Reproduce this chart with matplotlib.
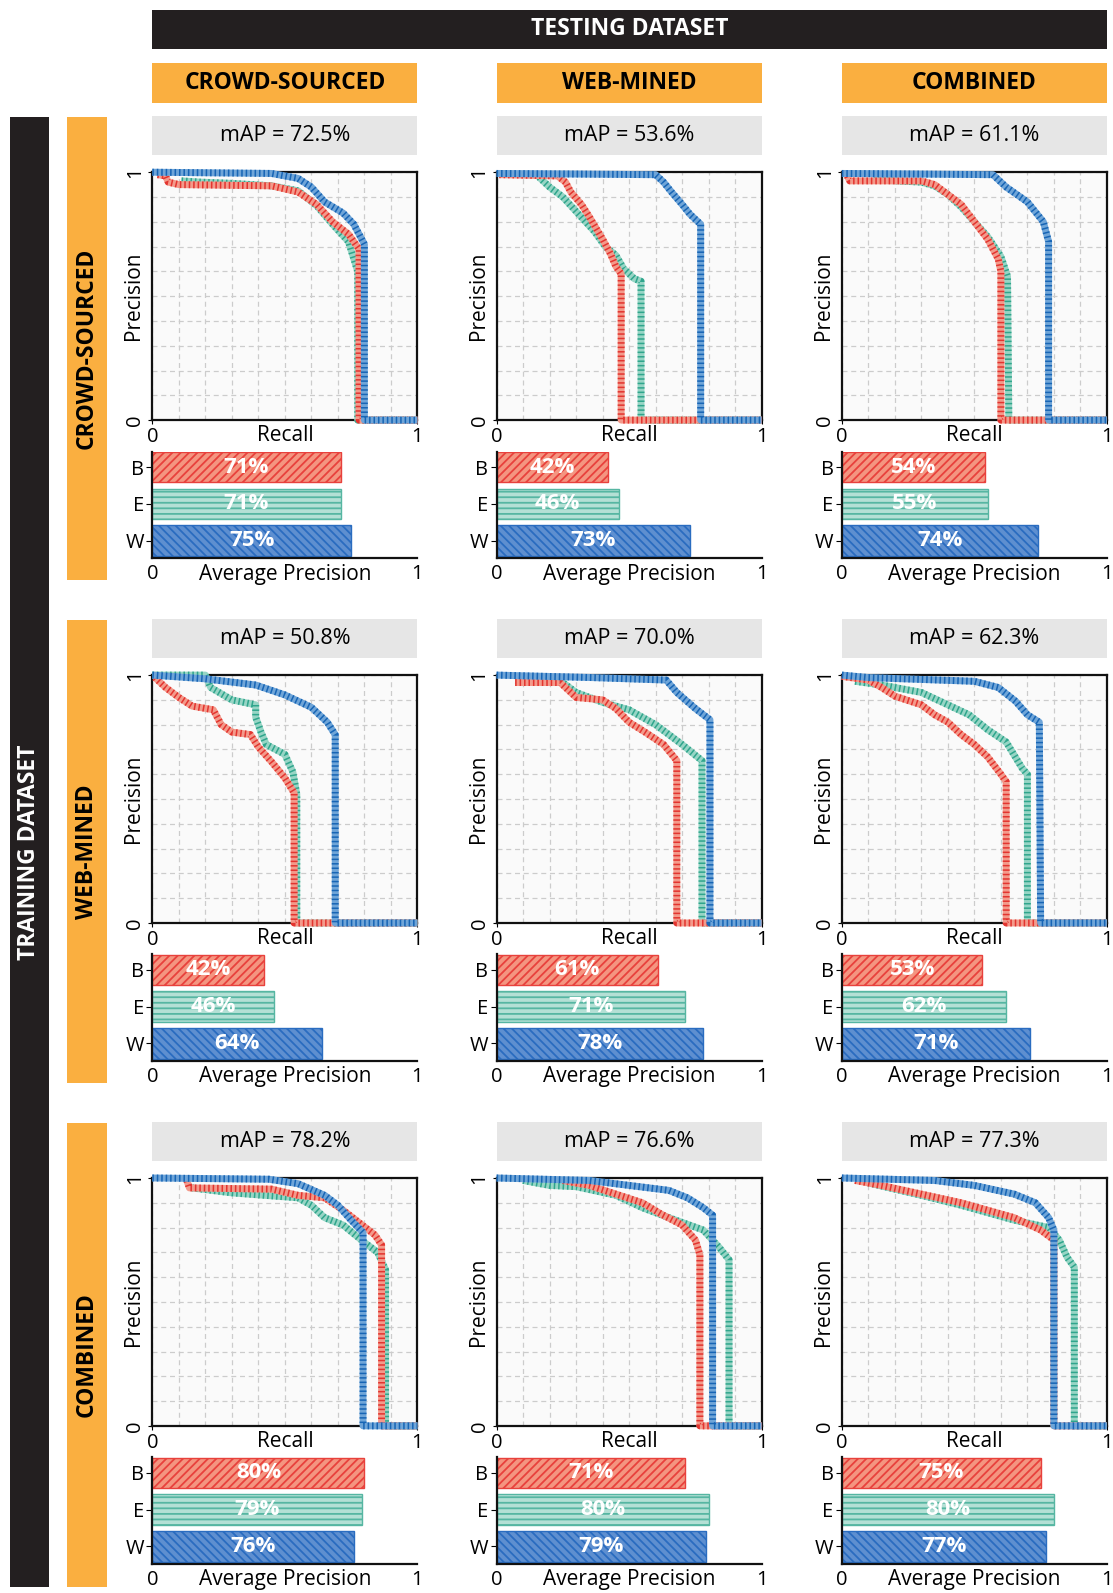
import matplotlib.pyplot as plt
from matplotlib.patches import Rectangle

plt.rcParams['font.family'] = ['Open Sans', 'DejaVu Sans']
plt.rcParams['hatch.linewidth'] = 1.3

# ---- data ----
datasets = ['CROWD-SOURCED', 'WEB-MINED', 'COMBINED']
methods = ['B', 'E', 'W']

# mAP per (training row, testing column)
map_values = [[72.5, 53.6, 61.1],
              [50.8, 70.0, 62.3],
              [78.2, 76.6, 77.3]]

# average precision per panel, order B, E, W
ap_cs = [[71, 71, 75], [42, 46, 73], [54, 55, 74]]
ap_wm = [[42, 46, 64], [61, 71, 78], [53, 62, 71]]
ap_cb = [[80, 79, 76], [71, 80, 79], [75, 80, 77]]

# precision-recall curves: (recall, precision) points
# train crowd-sourced
cs_cs_B = [(0.02, 0.99), (0.05, 0.985), (0.06, 0.96), (0.1, 0.95), (0.45, 0.945), (0.55, 0.92),
           (0.62, 0.87), (0.68, 0.8), (0.74, 0.75), (0.78, 0.69), (0.78, 0.0), (1.0, 0.0)]
cs_cs_E = [(0.11, 0.965), (0.18, 0.96), (0.3, 0.955), (0.45, 0.945), (0.55, 0.925), (0.62, 0.865),
           (0.68, 0.79), (0.74, 0.72), (0.775, 0.6), (0.775, 0.0), (1.0, 0.0)]
cs_cs_W = [(0.0, 1.0), (0.45, 0.995), (0.55, 0.975), (0.6, 0.94), (0.65, 0.88), (0.72, 0.835),
           (0.76, 0.79), (0.8, 0.71), (0.8, 0.0), (1.0, 0.0)]
cs_wm_B = [(0.01, 0.99), (0.23, 0.985), (0.26, 0.96), (0.28, 0.92), (0.32, 0.87), (0.35, 0.82),
           (0.4, 0.73), (0.43, 0.67), (0.45, 0.62), (0.47, 0.59), (0.47, 0.0), (1.0, 0.0)]
cs_wm_E = [(0.16, 0.98), (0.2, 0.94), (0.25, 0.9), (0.31, 0.83), (0.37, 0.76), (0.41, 0.7),
           (0.45, 0.665), (0.48, 0.61), (0.52, 0.57), (0.545, 0.56), (0.545, 0.0), (1.0, 0.0)]
cs_wm_W = [(0.0, 0.995), (0.6, 0.99), (0.63, 0.96), (0.66, 0.92), (0.7, 0.87), (0.73, 0.83),
           (0.77, 0.79), (0.77, 0.0), (1.0, 0.0)]
cs_cb_B = [(0.02, 0.985), (0.03, 0.965), (0.3, 0.965), (0.35, 0.95), (0.4, 0.91), (0.45, 0.87),
           (0.5, 0.8), (0.55, 0.73), (0.59, 0.65), (0.6, 0.6), (0.6, 0.0), (1.0, 0.0)]
cs_cb_E = [(0.12, 0.97), (0.3, 0.96), (0.35, 0.945), (0.4, 0.91), (0.45, 0.86), (0.5, 0.8),
           (0.55, 0.74), (0.6, 0.66), (0.625, 0.58), (0.63, 0.0), (1.0, 0.0)]
cs_cb_W = [(0.0, 0.995), (0.57, 0.99), (0.62, 0.94), (0.7, 0.88), (0.76, 0.8), (0.78, 0.72),
           (0.78, 0.0), (1.0, 0.0)]
# train web-mined
wm_cs_B = [(0.01, 0.99), (0.05, 0.95), (0.1, 0.91), (0.15, 0.875), (0.23, 0.86), (0.26, 0.8),
           (0.3, 0.77), (0.37, 0.76), (0.4, 0.71), (0.45, 0.65), (0.5, 0.585), (0.535, 0.525),
           (0.535, 0.0), (1.0, 0.0)]
wm_cs_E = [(0.0, 1.0), (0.2, 1.0), (0.22, 0.95), (0.3, 0.9), (0.39, 0.88), (0.39, 0.83),
           (0.41, 0.77), (0.43, 0.72), (0.5, 0.68), (0.53, 0.61), (0.545, 0.52), (0.545, 0.0),
           (1.0, 0.0)]
wm_cs_W = [(0.0, 1.0), (0.2, 0.985), (0.39, 0.96), (0.5, 0.92), (0.6, 0.87), (0.66, 0.81),
           (0.69, 0.76), (0.69, 0.0), (1.0, 0.0)]
wm_wm_B = [(0.07, 0.97), (0.24, 0.97), (0.3, 0.91), (0.4, 0.9), (0.45, 0.865), (0.5, 0.81),
           (0.56, 0.77), (0.63, 0.72), (0.68, 0.655), (0.68, 0.0), (1.0, 0.0)]
wm_wm_E = [(0.07, 0.98), (0.25, 0.97), (0.3, 0.93), (0.4, 0.89), (0.5, 0.86), (0.6, 0.8),
           (0.7, 0.72), (0.775, 0.655), (0.775, 0.0), (1.0, 0.0)]
wm_wm_W = [(0.0, 1.0), (0.36, 0.99), (0.64, 0.98), (0.68, 0.93), (0.75, 0.865), (0.805, 0.82),
           (0.805, 0.0), (1.0, 0.0)]
wm_cb_B = [(0.0, 0.995), (0.1, 0.98), (0.15, 0.95), (0.2, 0.915), (0.3, 0.88), (0.35, 0.84),
           (0.4, 0.81), (0.45, 0.76), (0.5, 0.72), (0.55, 0.67), (0.6, 0.6), (0.62, 0.57),
           (0.62, 0.0), (1.0, 0.0)]
wm_cb_E = [(0.05, 0.975), (0.15, 0.96), (0.3, 0.93), (0.4, 0.88), (0.48, 0.84), (0.55, 0.78),
           (0.62, 0.73), (0.68, 0.625), (0.7, 0.6), (0.7, 0.0), (1.0, 0.0)]
wm_cb_W = [(0.0, 1.0), (0.1, 0.99), (0.5, 0.975), (0.59, 0.95), (0.655, 0.895), (0.7, 0.84),
           (0.745, 0.81), (0.75, 0.0), (1.0, 0.0)]
# train combined
cb_cs_B = [(0.13, 0.99), (0.14, 0.96), (0.45, 0.955), (0.55, 0.93), (0.65, 0.92), (0.72, 0.87),
           (0.78, 0.82), (0.84, 0.77), (0.865, 0.73), (0.865, 0.0), (1.0, 0.0)]
cb_cs_E = [(0.15, 0.96), (0.3, 0.94), (0.55, 0.92), (0.6, 0.89), (0.65, 0.84), (0.72, 0.81),
           (0.8, 0.74), (0.85, 0.7), (0.88, 0.63), (0.88, 0.0), (1.0, 0.0)]
cb_cs_W = [(0.0, 1.0), (0.44, 0.995), (0.55, 0.977), (0.65, 0.93), (0.7, 0.89), (0.75, 0.83),
           (0.795, 0.78), (0.795, 0.0), (1.0, 0.0)]
cb_wm_B = [(0.25, 0.99), (0.35, 0.97), (0.45, 0.935), (0.55, 0.9), (0.62, 0.855), (0.7, 0.81),
           (0.75, 0.75), (0.767, 0.69), (0.767, 0.0), (1.0, 0.0)]
cb_wm_E = [(0.1, 0.99), (0.2, 0.97), (0.3, 0.965), (0.45, 0.93), (0.55, 0.88), (0.65, 0.84),
           (0.78, 0.79), (0.84, 0.72), (0.877, 0.67), (0.877, 0.0), (1.0, 0.0)]
cb_wm_W = [(0.0, 1.0), (0.35, 0.99), (0.5, 0.97), (0.65, 0.95), (0.72, 0.92), (0.78, 0.88),
           (0.815, 0.85), (0.815, 0.0), (1.0, 0.0)]
cb_cb_B = [(0.05, 0.99), (0.15, 0.97), (0.3, 0.935), (0.45, 0.9), (0.55, 0.87), (0.65, 0.84),
           (0.75, 0.79), (0.8, 0.75), (0.8, 0.0), (1.0, 0.0)]
cb_cb_E = [(0.1, 0.98), (0.3, 0.93), (0.45, 0.89), (0.55, 0.86), (0.65, 0.83), (0.78, 0.8),
           (0.82, 0.75), (0.85, 0.68), (0.877, 0.64), (0.877, 0.0), (1.0, 0.0)]
cb_cb_W = [(0.0, 1.0), (0.35, 0.99), (0.5, 0.97), (0.65, 0.935), (0.73, 0.9), (0.78, 0.84),
           (0.8, 0.79), (0.8, 0.0), (1.0, 0.0)]

curves = [
    [(cs_cs_B, cs_cs_E, cs_cs_W), (cs_wm_B, cs_wm_E, cs_wm_W), (cs_cb_B, cs_cb_E, cs_cb_W)],
    [(wm_cs_B, wm_cs_E, wm_cs_W), (wm_wm_B, wm_wm_E, wm_wm_W), (wm_cb_B, wm_cb_E, wm_cb_W)],
    [(cb_cs_B, cb_cs_E, cb_cs_W), (cb_wm_B, cb_wm_E, cb_wm_W), (cb_cb_B, cb_cb_E, cb_cb_W)],
]
aps = [ap_cs, ap_wm, ap_cb]

# ---- styling ----
ORANGE = '#FAAF40'
DARK = '#231F20'
line_light = {'B': '#F39A8B', 'E': '#97D5C5', 'W': '#6FA5D8'}
line_dark = {'B': '#E3342F', 'E': '#2FA58C', 'W': '#1765B5'}
bar_face = {'B': '#F49580', 'E': '#B4E0D5', 'W': '#5E8FD0'}
bar_edge = {'B': '#E8413C', 'E': '#56B6A2', 'W': '#2A6CC0'}
bar_hatch = {'B': '////', 'E': '---', 'W': '\\\\\\\\'}

# layout measured in pixels on a 1096 x 1568 copy of the reference
W_PX, H_PX = 1096, 1568
col_left = [150, 489, 829]
col_w = 261
row_pr_top = [169.5, 664.5, 1159.5]
pr_h = 244
bar_off = 275  # from PR top to bar axes top
bar_h = 105


def fig_rect(x0, y0, x1, y1):
    return [x0 / W_PX, 1 - y1 / H_PX, (x1 - x0) / W_PX, (y1 - y0) / H_PX]


def add_box(fig, x0, y0, x1, y1, color):
    l, b, w, h = fig_rect(x0, y0, x1, y1)
    fig.patches.append(Rectangle((l, b), w, h, transform=fig.transFigure,
                                 facecolor=color, edgecolor='none', zorder=0))
    return l + w / 2, b + h / 2


fig = plt.figure(figsize=(11.13, 15.93), dpi=100)

# headers
cx, cy = add_box(fig, 150, 10, 1090, 48, DARK)
fig.text(cx, cy, 'TESTING DATASET', color='white', fontweight='bold', fontsize=16.5,
         ha='center', va='center')
for j, name in enumerate(datasets):
    cx, cy = add_box(fig, col_left[j], 62, col_left[j] + col_w, 101, ORANGE)
    fig.text(cx, cy, name, color='black', fontweight='bold', fontsize=16.5, ha='center', va='center')

cx, cy = add_box(fig, 10, 115, 48, 1562, DARK)
fig.text(cx, cy, 'TRAINING DATASET', color='white', fontweight='bold', fontsize=16.5,
         ha='center', va='center', rotation=90)
row_spans = [(115, 571), (610, 1066), (1105, 1562)]
for i, name in enumerate(datasets):
    y0, y1 = row_spans[i]
    cx, cy = add_box(fig, 66, y0, 105, y1, ORANGE)
    fig.text(cx, cy, name, color='black', fontweight='bold', fontsize=16.5,
             ha='center', va='center', rotation=90)

ticks = [i / 10 for i in range(1, 10)]

for i in range(3):
    for j in range(3):
        x0 = col_left[j]
        top = row_pr_top[i]

        # mAP box
        cx, cy = add_box(fig, x0, top - 55, x0 + col_w, top - 17, '#E6E6E6')
        fig.text(cx, cy, f'mAP = {map_values[i][j]:.1f}%', fontsize=15.5, ha='center', va='center')

        # precision-recall axes
        ax = fig.add_axes(fig_rect(x0, top, x0 + col_w, top + pr_h))
        ax.set_facecolor('#FAFAFA')
        ax.set_xlim(0, 1)
        ax.set_ylim(0, 1)
        ax.set_xticks([0, 1])
        ax.set_yticks([0, 1])
        ax.set_xticks(ticks, minor=True)
        ax.set_yticks(ticks, minor=True)
        ax.tick_params(which='minor', length=0)
        ax.tick_params(which='major', length=3, labelsize=14.5, pad=2)
        ax.set_xticklabels(['0', '1'])
        ax.set_yticklabels(['0', '1'], rotation=90, va='center')
        ax.grid(which='both', color='#CCCCCC', linestyle=(0, (4, 3)), linewidth=0.9)
        ax.set_axisbelow(True)
        for sp in ax.spines.values():
            sp.set_linewidth(1.6)
            sp.set_color('#111111')
        ax.text(0.5, -0.02, 'Recall', transform=ax.transAxes, ha='center', va='top', fontsize=15)
        ax.text(-0.07, 0.5, 'Precision', transform=ax.transAxes, ha='center', va='center',
                rotation=90, fontsize=15)

        b_pts, e_pts, w_pts = curves[i][j]
        for m, pts in (('E', e_pts), ('B', b_pts), ('W', w_pts)):
            xs = [p[0] for p in pts]
            ys = [p[1] for p in pts]
            ax.plot(xs, ys, color=line_light[m], lw=5, solid_joinstyle='round',
                    solid_capstyle='butt', clip_on=False, zorder=3)
            ax.plot(xs, ys, color=line_dark[m], lw=5, dashes=(0.22, 0.42),
                    dash_capstyle='butt', clip_on=False, zorder=3)

        # average precision bars
        bt = top + bar_off
        bx = fig.add_axes(fig_rect(x0, bt, x0 + col_w, bt + bar_h))
        bx.set_xlim(0, 1)
        bx.set_ylim(-0.48, 2.42)
        vals = aps[i][j]
        for k, m in enumerate(methods):
            ypos = 2 - k
            v = vals[k] / 100
            bx.barh(ypos, v, height=0.83, color=bar_face[m], edgecolor=bar_edge[m],
                    hatch=bar_hatch[m], linewidth=1.0)
            bx.text(v / 2, ypos, f'{vals[k]}%', color='white', fontweight='bold',
                    fontsize=16, ha='center', va='center')
        bx.set_yticks([2, 1, 0])
        bx.set_yticklabels(methods)
        bx.set_xticks([0, 1])
        bx.set_xticklabels(['0', '1'])
        bx.tick_params(axis='y', length=4, labelsize=14.5, pad=2)
        bx.tick_params(axis='x', length=0, labelsize=14.5, pad=4)
        for s in ('top', 'right'):
            bx.spines[s].set_visible(False)
        for s in ('left', 'bottom'):
            bx.spines[s].set_linewidth(1.6)
            bx.spines[s].set_color('#111111')
        bx.text(0.5, -0.05, 'Average Precision', transform=bx.transAxes, ha='center', va='top',
                fontsize=15)

fig.savefig('out.png', dpi=100, facecolor='white')
